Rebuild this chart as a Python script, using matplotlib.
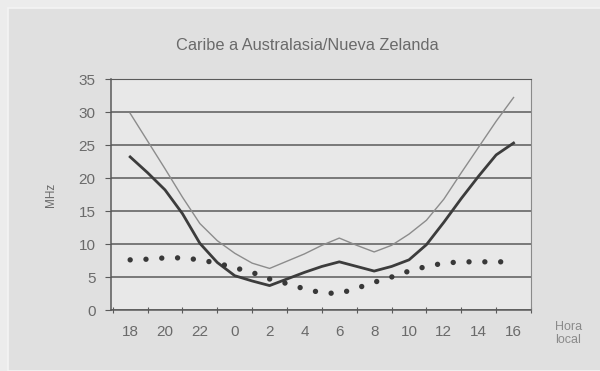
import matplotlib.pyplot as plt
from matplotlib.patches import Rectangle

# hours since 18:00 local, one value per hour
hours = list(range(23))
tick_labels = ["18", "20", "22", "0", "2", "4", "6", "8", "10", "12", "14", "16"]

upper_mhz = [29.8, 25.6, 21.4, 17.1, 13.1, 10.5, 8.6, 7.1, 6.3, 7.4, 8.5, 9.8,
             10.9, 9.8, 8.8, 9.8, 11.5, 13.6, 16.8, 20.8, 24.7, 28.6, 32.2]
optimum_mhz = [23.2, 20.8, 18.2, 14.6, 10.1, 7.2, 5.2, 4.4, 3.7, 4.7, 5.7, 6.6,
               7.3, 6.6, 5.9, 6.6, 7.6, 9.9, 13.3, 16.9, 20.3, 23.5, 25.3]
lower_mhz = [7.6, 7.7, 7.9, 7.9, 7.6, 7.1, 6.4, 5.7, 4.7, 4.0, 3.2, 2.6,
             2.5, 3.3, 4.2, 5.0, 5.9, 6.6, 7.1, 7.3, 7.3, 7.3, 7.3]

text_color = "#6a6a6a"
grid_color = "#5a5a5a"

plt.rcParams["font.family"] = ["Liberation Sans", "DejaVu Sans"]

fig = plt.figure(figsize=(6, 3.71), dpi=100, facecolor="#ececec")
# card behind the chart
fig.patches.append(Rectangle((8 / 600, 0), 1, 1 - 8 / 371, transform=fig.transFigure,
                             facecolor="#e0e0e0", edgecolor="#f4f4f4", linewidth=1.2,
                             zorder=-5))

ax = fig.add_axes([0.185, 0.1644, 0.7, 0.6226])
ax.set_zorder(2)
ax.set_facecolor("#e8e8e8")

ax.plot(hours, upper_mhz, color="#8c8c8c", linewidth=1.0, zorder=3)
ax.plot(hours, optimum_mhz, color="#3c3c3c", linewidth=2.0, zorder=4)
ax.plot(hours, lower_mhz, color="#383838", linewidth=3.9,
        linestyle=(0, (0.001, 2.92)), dash_capstyle="round", zorder=5)

ax.set_ylim(0, 35)
ax.set_yticks(range(0, 36, 5))
ax.set_xlim(-1.1, 22.9)
ax.set_xticks(range(-1, 24, 2))
ax.set_xticklabels([])
ax.set_xticks(range(0, 23, 2), minor=True)
ax.set_xticklabels(tick_labels, minor=True)

ax.yaxis.grid(True, color=grid_color, linewidth=1.1)
ax.set_axisbelow(True)
ax.tick_params(axis="y", length=4, color=grid_color, labelcolor=text_color,
               labelsize=11, pad=7)
ax.tick_params(axis="x", which="major", length=4, color=grid_color, direction="inout")
ax.tick_params(axis="x", which="minor", length=0, labelcolor=text_color,
               labelsize=11, pad=11)

for side in ["left", "bottom"]:
    ax.spines[side].set_color(grid_color)
    ax.spines[side].set_linewidth(1.1)
ax.spines["right"].set_color("#8a8a8a")
ax.spines["top"].set_color(grid_color)

ax.set_ylabel("MHz", color=text_color, fontsize=8.5, labelpad=16)
fig.text(0.512, 0.878, "Caribe a Australasia/Nueva Zelanda", ha="center", va="center",
         color=text_color, fontsize=11.8)
fig.text(0.947, 0.1, "Hora\nlocal", ha="center", va="center", color="#8a8a8a",
         fontsize=9, linespacing=1.1)

fig.savefig("out.png", dpi=100, facecolor=fig.get_facecolor())
